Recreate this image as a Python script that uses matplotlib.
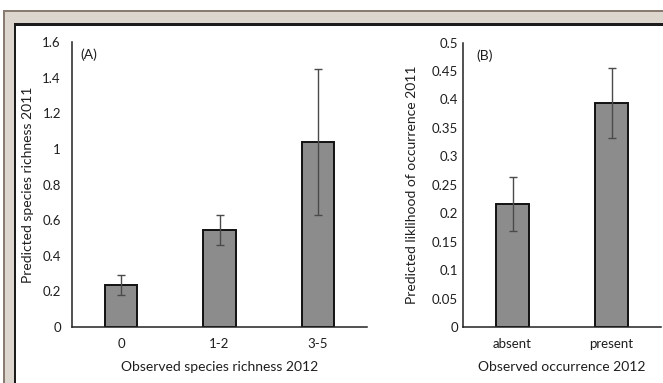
import matplotlib.pyplot as plt
from matplotlib.patches import Rectangle

# Panel A data
rich_cats = ['0', '1-2', '3-5']
rich_vals = [0.237, 0.543, 1.037]
rich_err = [0.057, 0.085, 0.41]

# Panel B data
occ_cats = ['absent', 'present']
occ_vals = [0.216, 0.394]
occ_err = [0.048, 0.061]

plt.rcParams['font.family'] = ['Lato', 'DejaVu Sans']
W, H = 663, 383
fig = plt.figure(figsize=(W / 100, H / 100), dpi=100)
fig.patch.set_facecolor('white')

# picture frame (pixel coords from top-left), kept behind the axes
def px_rect(x0, y0, x1, y1, **kw):
    fig.add_artist(Rectangle((x0 / W, 1 - y1 / H), (x1 - x0) / W, (y1 - y0) / H,
                             transform=fig.transFigure, linewidth=0, zorder=-5, **kw))

px_rect(3, 10, W + 5, H + 5, facecolor='#8a7b72')
px_rect(5, 12, W + 5, H + 5, facecolor='#ddd6ce')
px_rect(14, 23, W + 5, H + 5, facecolor='#1c1c1c')
px_rect(16, 26, W + 5, H + 5, facecolor='white')

text_col = '#1e1e1e'


def panel(rect, cats, vals, errs, ymax, step, fmt, ylabel, xlabel, tag, ypad, tagx, ylx):
    ax = fig.add_axes(rect)
    ax.set_facecolor('none')
    x = range(len(cats))
    ax.bar(x, vals, width=0.33, color='#8c8c8c', edgecolor='#111111', linewidth=1.4,
           zorder=2)
    ax.errorbar(x, vals, yerr=errs, fmt='none', ecolor='#4a4a4a', elinewidth=1.0,
                capsize=2.8, capthick=1.0, zorder=3)
    ax.set_xlim(-0.5, len(cats) - 0.5)
    ax.set_ylim(0, ymax)
    ticks = [i * step for i in range(int(round(ymax / step)) + 1)]
    ax.set_yticks(ticks)
    ax.set_yticklabels([fmt(t) for t in ticks])
    ax.set_xticks(list(x))
    ax.set_xticklabels(cats)
    for s in ['top', 'right']:
        ax.spines[s].set_visible(False)
    for s in ['left', 'bottom']:
        ax.spines[s].set_color('#222222')
        ax.spines[s].set_linewidth(1.1)
    ax.tick_params(axis='y', length=0, pad=ypad, labelsize=9.5, colors=text_col)
    ax.tick_params(axis='x', length=0, pad=8, labelsize=9.5, colors=text_col)
    ax.set_ylabel(ylabel, fontsize=10, color=text_col)
    ax.yaxis.set_label_coords(ylx, 0.5)
    ax.set_xlabel(xlabel, fontsize=10, color=text_col)
    ax.xaxis.set_label_coords(0.5, -0.12)
    ax.text(tagx, 0.955, tag, transform=ax.transAxes, fontsize=10, color=text_col,
            va='center', ha='left')
    return ax


def fmt_a(v):
    return '0' if v == 0 else ('1' if abs(v - 1) < 1e-9 else f'{v:.1f}')


def fmt_b(v):
    return f'{v:.2f}'.rstrip('0').rstrip('.')


panel([72 / W, 1 - 327 / H, 295 / W, 285 / H], rich_cats, rich_vals, rich_err,
      1.6, 0.2, fmt_a, 'Predicted species richness 2011',
      'Observed species richness 2012', '(A)', 8, 0.027, -0.13)
panel([463 / W, 1 - 327 / H, 198 / W, 284.5 / H], occ_cats, occ_vals, occ_err,
      0.5, 0.05, fmt_b, 'Predicted liklihood of occurrence 2011',
      'Observed occurrence 2012', '(B)', 3.6, 0.07, -0.228)

fig.savefig('out.png', dpi=100)
